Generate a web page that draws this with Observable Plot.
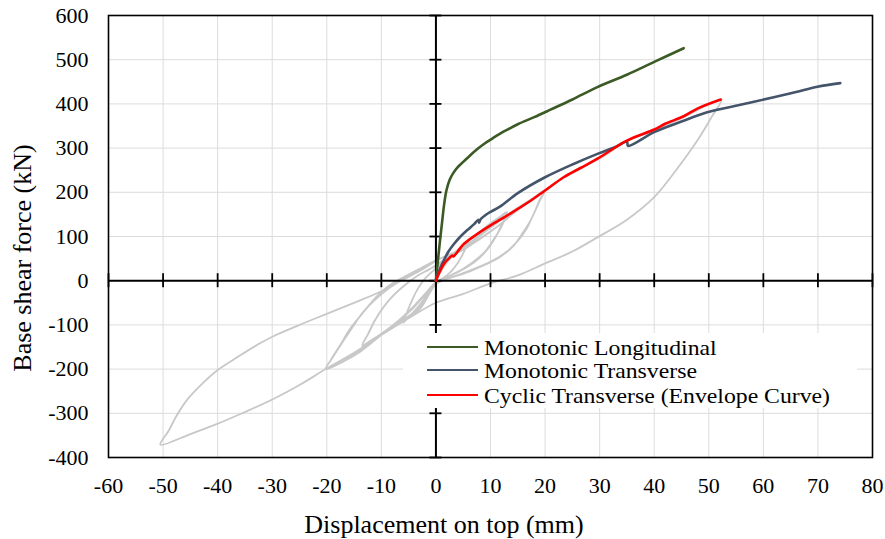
<!DOCTYPE html>
<html><head><meta charset="utf-8">
<script src="https://cdn.jsdelivr.net/npm/d3@7"></script>
<script src="https://cdn.jsdelivr.net/npm/@observablehq/plot@0.6"></script>
<style>
body{margin:0;background:#fff;}
#wrap{position:relative;width:885px;height:539px;font-family:"Liberation Serif","Times New Roman",serif;color:#000;}
#wrap svg{position:absolute;left:0;top:0;}
.title{position:absolute;font-size:26px;line-height:26px;text-align:center;white-space:nowrap;}
#legend{position:absolute;left:403px;top:333px;width:454px;height:75px;background:#fff;}
.lg-line{position:absolute;left:24px;width:51px;height:2.5px;}
.lg-text{position:absolute;left:81px;font-size:21px;line-height:22px;white-space:nowrap;transform:scaleX(1.13);transform-origin:0 50%;}
</style></head><body>
<div id="wrap"></div>
<script>
// Tick values
const xTicks = [-60,-50,-40,-30,-20,-10,0,10,20,30,40,50,60,70,80];
const yTicks = [-400,-300,-200,-100,0,100,200,300,400,500,600];

// Series names and colours
const seriesNames = ["Monotonic Longitudinal","Monotonic Transverse","Cyclic Transverse (Envelope Curve)"];
const seriesColors = ["#3b5a25","#44546a","#ff0000"];

// Monotonic Longitudinal
const dispLong  = [0,0.3,0.7,1.15,1.5,1.9,2.5,3.2,4,5.1,6.3,7.6,9,10,11,13,15,18,21,25,29.6,35,40,45.4];
const forceLong = [0,38,85,135,172,203,228,244,257,270,284,298,311,319,327,341,354,370,387,410,438,466,495,526];

// Monotonic Transverse
const dispTrans  = [0,0.5,1.45,2.3,3.3,4.5,5.7,7,7.8,7.9,8.2,9.5,11.8,15,20,25,29.6,33,35,35.2,40,45,49.7,55.8,61.9,66,69.9,74.1];
const forceTrans = [0,20,46,66,83,100,114,128,138,131,139,152,168,198,234,263,287,303,315,305,336,360,381,398,415,427,439,447];

// Cyclic Transverse envelope
const dispCyc  = [0,0.5,1.45,2.5,3,3.2,5.1,7.6,10,13.1,17,20,23.4,26.5,29.6,35,40,42,45.4,48,52.2];
const forceCyc = [0,15,38,52,57,55,83,106,125,148,178,204,234,255,276,317,342,355,372,390,410];

// Cyclic test hysteresis (grey)
const hystDisp = [
  0,1.5,3,4.5,6, 5,4,3,2,1,0, -1.5,-3,-4.5,-6, -5.2,-4.3,-3.3,-2.2,-1,0, 1.5,3,4.5,6,
  8,10,12,13, 12,11,9.5,8,6,4,2,0, -2,-4,-6,-8,-10,-12,-13.5, -12.5,-11.2,-9.5,-7.5,-5.5,-3.5,-1.5,0,
  2,4,6,8,10,12,13, 12,10.5,9,7,5,3,1,0, -2,-4,-6,-8,-10,-12,-13.5, -12.3,-11,-9.3,-7.3,-5.3,-3.3,-1.3,0,
  2.5,5.1,8,11.2,14,17.3,20, 19,17.5,16,14.3,12,10,7.5,5.1,2.5,0, -2.8,-5,-7.7,-10,-13.8,-17,-20.2,
  -19,-16.9,-15,-13.8,-12,-10.8,-9,-7.1,-5,-2.8,0, 2.5,5.1,8,11.2,14,17.3,20,
  19,17.8,16.5,15,13,10.5,8,5,2.5,0, -2.8,-5,-7.7,-10,-13.8,-17,-20.2,
  -19.2,-17.5,-15.8,-14,-12.3,-10.5,-8.5,-6.5,-4.5,-2.3,0,
  5,10,15,20,25,30,35,40,45.4,52.2,
  50.5,47.9,44,40,35,29.6,25,19.8,15,10,5,0,-5,-10,-15,-20.2,
  -25,-29.7,-35,-40.1,-45,-50.5,
  -49,-47.5,-45.5,-43,-40.1,-36,-32,-29.7,-25,-20,-15,-10.2,-6.4,-3,-0.4
];
const hystForce = [
  0,33,55,72,90, 62,40,24,12,4,-4, -30,-55,-76,-95, -68,-42,-18,2,17,28, 45,60,75,90,
  110,130,147,155, 125,100,72,52,33,19,8,-4, -32,-60,-83,-104,-122,-137,-147, -122,-90,-58,-30,-8,10,24,34,
  50,67,84,103,123,144,155, 122,92,66,44,27,14,3,-3, -30,-57,-81,-102,-120,-136,-147, -118,-86,-55,-27,-6,12,25,35,
  55,70,95,122,150,180,205, 182,140,110,80,56,42,28,16,6,-6, -58,-80,-100,-120,-158,-182,-200,
  -175,-135,-100,-78,-52,-35,-15,0,14,28,46, 58,72,94,122,150,181,205,
  180,148,115,90,66,46,32,17,6,-8, -62,-84,-102,-123,-160,-183,-200,
  -178,-145,-110,-82,-57,-36,-16,0,15,30,46,
  74,120,165,204,246,276,316,340,370,408,
  370,317,250,189,138,98,66,38,12,-6,-30,-50,-85,-123,-163,-200,
  -236,-267,-297,-324,-347,-371,
  -340,-305,-268,-235,-203,-170,-140,-125,-100,-75,-50,-25,0,22,42
];

const toRows = (xs, ys) => xs.map((x, i) => ({x, y: ys[i]}));
const longRows = toRows(dispLong, forceLong);
const transRows = toRows(dispTrans, forceTrans);
const cycRows = toRows(dispCyc, forceCyc);
const hystRows = toRows(hystDisp, hystForce);

const fmt = d => String(d);

const chart = Plot.plot({
  width: 885,
  height: 539,
  marginLeft: 108,
  marginRight: 13,
  marginTop: 15,
  marginBottom: 82,
  x: {domain: [-60, 80]},
  y: {domain: [-400, 600]},
  style: {fontFamily: '"Liberation Serif","Times New Roman",serif', fontSize: "22px", color: "#000", background: "#fff", overflow: "visible"},
  marks: [
    Plot.gridX(xTicks, {stroke: "#dcdcdc", strokeOpacity: 1, strokeWidth: 1}),
    Plot.gridY(yTicks, {stroke: "#dcdcdc", strokeOpacity: 1, strokeWidth: 1}),
    Plot.axisX(xTicks, {tickSize: 0, tickPadding: 20, tickFormat: fmt, label: null, fontSize: 22}),
    Plot.axisY(yTicks, {tickSize: 0, tickPadding: 20, tickFormat: fmt, label: null, fontSize: 22}),
    Plot.line(hystRows, {x: "x", y: "y", stroke: "#c8c8c8", strokeWidth: 1.8, curve: "catmull-rom"}),
    Plot.ruleY([0], {stroke: "#000", strokeWidth: 2}),
    Plot.ruleX([0], {stroke: "#000", strokeWidth: 2}),
    Plot.ruleX(xTicks, {x: d => d, y1: 0, y2: 0, insetTop: -7, insetBottom: -7, stroke: "#000", strokeWidth: 1.8}),
    Plot.ruleY(yTicks, {y: d => d, x1: 0, x2: 0, insetLeft: -6, insetRight: -6, stroke: "#000", strokeWidth: 1.8}),
    Plot.line(longRows, {x: "x", y: "y", stroke: seriesColors[0], strokeWidth: 2.6, curve: "catmull-rom"}),
    Plot.line(transRows, {x: "x", y: "y", stroke: seriesColors[1], strokeWidth: 2.6, curve: "catmull-rom"}),
    Plot.line(cycRows, {x: "x", y: "y", stroke: seriesColors[2], strokeWidth: 2.6, curve: "catmull-rom"}),
    Plot.frame({stroke: "#000", strokeWidth: 1.6})
  ]
});

const wrap = document.getElementById("wrap");
wrap.appendChild(chart);

// Axis titles
const xt = document.createElement("div");
xt.className = "title";
xt.style.left = "0px"; xt.style.width = "888px"; xt.style.top = "512px";
xt.textContent = "Displacement on top (mm)";
wrap.appendChild(xt);

const yt = document.createElement("div");
yt.className = "title";
yt.style.left = "-127px"; yt.style.top = "245px"; yt.style.width = "300px"; yt.style.height = "26px";
yt.style.transform = "rotate(-90deg)";
yt.textContent = "Base shear force (kN)";
wrap.appendChild(yt);

// Legend
const legend = document.createElement("div");
legend.id = "legend";
const rowCenters = [14, 37, 62];
const rowTops = [3.9, 27.2, 51.6];
seriesNames.forEach((name, i) => {
  const ln = document.createElement("div");
  ln.className = "lg-line";
  ln.style.top = (rowCenters[i] - 1.25) + "px";
  ln.style.background = seriesColors[i];
  legend.appendChild(ln);
  const tx = document.createElement("div");
  tx.className = "lg-text";
  tx.style.top = rowTops[i] + "px";
  tx.textContent = name;
  legend.appendChild(tx);
});
wrap.appendChild(legend);
</script>
</body></html>
